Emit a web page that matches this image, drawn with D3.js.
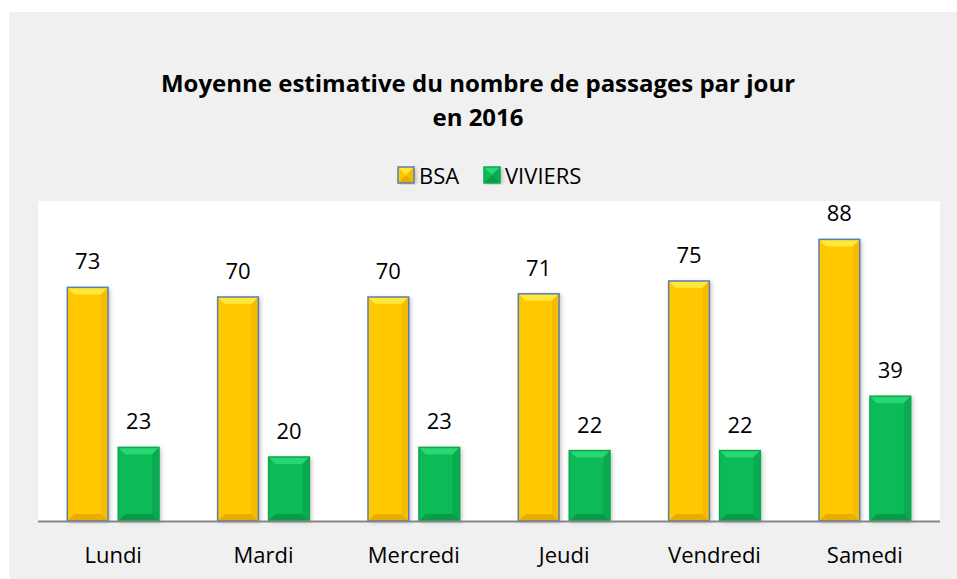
<!DOCTYPE html>
<html>
<head>
<meta charset="utf-8">
<script src="https://cdn.jsdelivr.net/npm/d3@7"></script>
<style>
  body { margin: 0; background: #fff; }
  text { font-family: "Open Sans", sans-serif; fill: #000; }
</style>
</head>
<body>
<svg id="chart" width="957" height="579"></svg>
<script>
let days = ['Lundi', 'Mardi', 'Mercredi', 'Jeudi', 'Vendredi', 'Samedi']
let seriesNames = ['BSA', 'VIVIERS']
let bsa = [73, 70, 70, 71, 75, 88]
let viviers = [23, 20, 23, 22, 22, 39]

let svg = d3.select('#chart')

let colors = {
    BSA: { main: '#ffc800', light: '#ffe83a', dark: '#e8ac00', side: '#f7bc00', stroke: '#5b7fb4' },
    VIVIERS: { main: '#0cba58', light: '#28d672', dark: '#089c46', side: '#0aab50', stroke: '#0aa84e' }
}

svg.append('rect')
    .attr('x', 9).attr('y', 12).attr('width', 948).attr('height', 567)
    .attr('fill', '#f0f0f0')

let plot = { left: 38, right: 940, top: 201, bottom: 521 }

svg.append('rect')
    .attr('x', plot.left).attr('y', plot.top)
    .attr('width', plot.right - plot.left).attr('height', plot.bottom - plot.top)
    .attr('fill', '#ffffff')

let x = d3.scaleBand().domain(days).range([plot.left, plot.right])
    .paddingInner(0.39).paddingOuter(0.195)
let xs = d3.scaleBand().domain(seriesNames).range([0, x.bandwidth()]).paddingInner(0.2)
let y = d3.scaleLinear().domain([0, 100]).range([plot.bottom, plot.top])

// title
let title = ['Moyenne estimative du nombre de passages par jour', 'en 2016']
title.forEach((t, i) => {
    svg.append('text').attr('x', 478).attr('y', 92 + i * 34).attr('text-anchor', 'middle')
        .style('font-size', '24px').style('font-weight', 'bold')
        .text(t)
})

let defs = svg.append('defs')
defs.append('filter').attr('id', 'shadow').attr('x', '-20%').attr('y', '-5%').attr('width', '150%').attr('height', '115%')
    .append('feDropShadow').attr('dx', 2).attr('dy', 1).attr('stdDeviation', 2)
    .attr('flood-color', '#000').attr('flood-opacity', 0.25)

let drawBar = (g, bx, by, bw, bh, c) => {
    let bev = Math.min(7, bh / 2)
    g.append('rect').attr('x', bx).attr('y', by).attr('width', bw).attr('height', bh)
        .attr('fill', c.main).attr('filter', 'url(#shadow)')
    g.append('polygon')
        .attr('points', [[bx, by], [bx + bw, by], [bx + bw - bev, by + bev], [bx + bev, by + bev]].join(' '))
        .attr('fill', c.light)
    g.append('polygon')
        .attr('points', [[bx + bw, by], [bx + bw, by + bh], [bx + bw - bev, by + bh - bev], [bx + bw - bev, by + bev]].join(' '))
        .attr('fill', c.side)
    g.append('polygon')
        .attr('points', [[bx, by + bh], [bx + bw, by + bh], [bx + bw - bev, by + bh - bev], [bx + bev, by + bh - bev]].join(' '))
        .attr('fill', c.dark)
    g.append('rect').attr('x', bx).attr('y', by).attr('width', bw).attr('height', bh)
        .attr('fill', 'none').attr('stroke', c.stroke).attr('stroke-width', 1.5)
}

let groups = svg.selectAll('g.day')
    .data(days)
    .enter()
    .append('g')
    .attr('class', 'day')

groups.each(function (day, i) {
    let g = d3.select(this)
    let vals = { BSA: bsa[i], VIVIERS: viviers[i] }
    seriesNames.forEach((s) => {
        let bx = x(day) + xs(s)
        let by = y(vals[s])
        drawBar(g, bx, by, xs.bandwidth(), y(0) - by, colors[s])
        g.append('text')
            .attr('x', bx + xs.bandwidth() / 2)
            .attr('y', by - 18)
            .attr('text-anchor', 'middle')
            .style('font-size', '22px')
            .text(vals[s])
    })
})

svg.append('line')
    .attr('x1', plot.left).attr('x2', plot.right)
    .attr('y1', plot.bottom + 0.5).attr('y2', plot.bottom + 0.5)
    .attr('stroke', '#868686').attr('stroke-width', 2)

svg.selectAll('text.cat')
    .data(days)
    .enter()
    .append('text')
    .attr('class', 'cat')
    .attr('x', (d) => x(d) + x.bandwidth() / 2)
    .attr('y', 563)
    .attr('text-anchor', 'middle')
    .style('font-size', '22px')
    .text((d) => d)

// legend
let legend = svg.append('g')
let legendItems = [{ name: 'BSA', x: 398 }, { name: 'VIVIERS', x: 484 }]
legendItems.forEach((it) => {
    let c = colors[it.name]
    drawBar(legend, it.x, 167, 16, 16, Object.assign({}, c, { stroke: it.name === 'BSA' ? c.stroke : c.side }))
    legend.append('text').attr('x', it.x + 21).attr('y', 184)
        .style('font-size', '22px').text(it.name)
})
</script>
</body>
</html>
